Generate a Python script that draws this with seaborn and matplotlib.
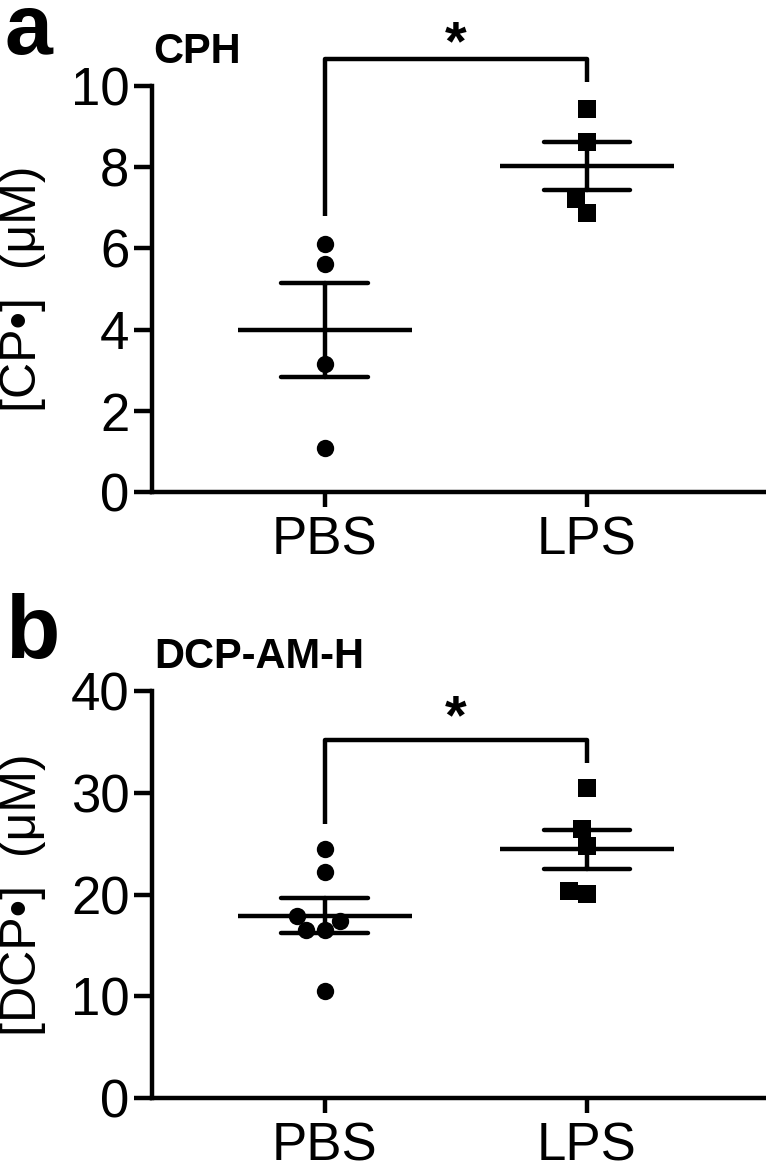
import seaborn as sns
import pandas as pd
import matplotlib.pyplot as plt

# values
groups = ['PBS', 'LPS']
pbs_a = [6.12, 5.61, 3.15, 1.09]
lps_a = [9.42, 8.62, 7.21, 6.86]
pbs_b = [24.46, 22.24, 17.93, 17.45, 16.47, 16.50, 10.53]
lps_b = [30.49, 26.42, 24.78, 20.06, 20.38]

sns.set_theme(style='ticks')
plt.rcParams['font.family'] = ['Liberation Sans', 'DejaVu Sans']
for k in ['text.color', 'axes.labelcolor', 'xtick.color', 'ytick.color', 'axes.edgecolor']:
    plt.rcParams[k] = 'black'

LW = 3.2


def make_df(pbs, lps):
    return pd.DataFrame({'group': ['PBS'] * len(pbs) + ['LPS'] * len(lps),
                         'value': pbs + lps})


def panel(ax, pbs, lps, ymax, ystep, ylabel, bracket, star_y):
    df = make_df(pbs, lps)
    sns.swarmplot(data=df[df.group == 'PBS'], x='group', y='value', order=groups,
                  color='black', marker='o', size=12.5, linewidth=0, ax=ax)
    sns.swarmplot(data=df[df.group == 'LPS'], x='group', y='value', order=groups,
                  color='black', marker='s', size=12.5, linewidth=0, ax=ax)
    # mean +/- SEM
    sns.pointplot(data=df, x='group', y='value', order=groups, errorbar='se',
                  capsize=0.33, markers='_', linestyle='none', color='black',
                  markersize=125, markeredgewidth=LW,
                  err_kws={'linewidth': LW}, ax=ax)
    ax.set_xlim(-0.66, 1.68)
    ax.set_ylim(0, ymax)
    ax.set_yticks(range(0, ymax + 1, ystep))
    ax.set_xlabel('')
    ax.set_ylabel(ylabel, fontsize=36, va='center')
    ax.yaxis.set_label_coords(-0.21, 0.5)
    for s in ['top', 'right']:
        ax.spines[s].set_visible(False)
    for s in ['left', 'bottom']:
        ax.spines[s].set_linewidth(LW)
    ax.tick_params(axis='y', labelsize=38, length=13, width=LW, pad=3)
    ax.tick_params(axis='x', labelsize=38, length=11, width=LW, pad=6)
    # significance bracket
    y_left, y_top, y_right = bracket
    ax.plot([0, 0, 1, 1], [y_left, y_top, y_top, y_right], color='black',
            lw=LW, clip_on=False, solid_capstyle='butt')
    ax.text(0.5, star_y, '*', ha='center', va='center', fontsize=40,
            fontweight='bold', clip_on=False)


fig = plt.figure(figsize=(7.66, 11.75), dpi=100)
ax1 = fig.add_axes([0.198, 0.581, 0.801, 0.346])
ax2 = fig.add_axes([0.198, 0.0653, 0.801, 0.3468])

panel(ax1, pbs_a, lps_a, 10, 2, '[CP\u2022]  (\u03bcM)', (6.79, 10.65, 10.1), 11.0)
panel(ax2, pbs_b, lps_b, 40, 10, '[DCP\u2022]  (\u03bcM)', (26.9, 35.16, 32.94), 37.2)

fig.text(0.006, 0.954, 'a', fontsize=62, fontweight='bold', va='baseline')
fig.text(0.2, 0.946, 'CPH', fontsize=30, fontweight='bold', va='baseline')
fig.text(0.006, 0.44, 'b', fontsize=64, fontweight='bold', va='baseline')
fig.text(0.202, 0.4315, 'DCP-AM-H', fontsize=30, fontweight='bold', va='baseline')

fig.savefig('out.png', dpi=100)
